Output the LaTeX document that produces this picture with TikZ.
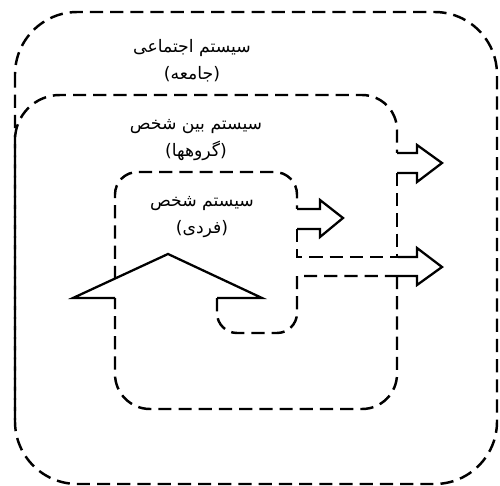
\documentclass[tikz,border=0pt]{standalone}
\usepackage{fontspec}
\newfontfamily\persianfont[Script=Arabic]{DejaVu Sans}
\TeXXeTstate=1
\tikzset{
  sysline/.style={line width=1.4pt, dash pattern=on 7.5pt off 4pt},
  sysarrow/.style={line width=1.3pt, line join=miter},
  syslabel/.style={align=center, inner sep=0pt,
    font=\persianfont\fontsize{9.8}{15.4}\selectfont}
}
\begin{document}
\begin{tikzpicture}[x=0.02cm, y=-0.02cm]
  \useasboundingbox (0,0) rectangle (500,486);

  % society
  \draw[sysline, rounded corners=1.25cm] (15,12) rectangle (497,484);
  % interpersonal
  \draw[sysline] (15,420) [rounded corners=0.9cm] -- (15,95) -- (200,95)
        [rounded corners=0.7cm] -- (397,95) -- (397,153);
  \draw[sysline] (397,173) -- (397,257);
  \draw[sysline, rounded corners=0.7cm] (397,276) -- (397,409) -- (115,409) -- (115,298);
  % person
  \draw[sysline, rounded corners=0.45cm] (115,279) -- (115,172) -- (297,172) -- (297,209);
  \draw[sysline] (297,229) -- (297,257) -- (398,257);
  \draw[sysline] (398,276) -- (297,276) [rounded corners=0.4cm] -- (297,333) -- (217,333) -- (217,298);

  % arrows
  \draw[sysarrow] (397,153) -- (417,153) -- (417,145) -- (442,163)
        -- (417,182) -- (417,173) -- (397,173);
  \draw[sysarrow] (297,209) -- (320,209) -- (320,200) -- (343,218)
        -- (320,237) -- (320,229) -- (297,229);
  \draw[sysarrow] (398,257) -- (417,257) -- (417,248) -- (442,267)
        -- (417,285) -- (417,276) -- (398,276);
  \draw[sysarrow] (115,298) -- (73,298) -- (168,254) -- (262,298) -- (217,298);

  % labels
  \node[syslabel] (society) at (192,61) {\beginR سیستم اجتماعی\endR\\\beginR (جامعه)\endR};
  \node[syslabel] (group) at (196,140) {\beginR سیستم بین شخص\endR\\\beginR (گروهها)\endR};
  \node[syslabel] (person) at (202,217) {\beginR سیستم شخص\endR\\\beginR (فردی)\endR};
\end{tikzpicture}
\end{document}
